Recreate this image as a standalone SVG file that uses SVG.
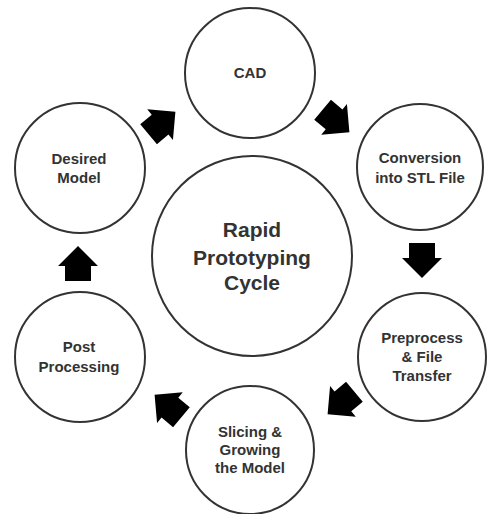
<svg xmlns="http://www.w3.org/2000/svg" width="488" height="514" viewBox="0 0 488 514">
<defs>
<style>
.node{fill:#fff;stroke:#333;stroke-width:2}
.lbl{font-family:"Liberation Sans",Arial,sans-serif;font-weight:bold;font-size:15px;fill:#333;text-anchor:middle}
.big{font-size:21px}
.arr{fill:#000}
</style>
<path id="blk" d="M-17.5,-13 L-2.5,-13 L-2.5,-20 L17.5,0 L-2.5,20 L-2.5,13 L-17.5,13 Z"/>
</defs>
<rect width="488" height="514" fill="#fff"/>
<g id="connectors" class="arr">
<use href="#blk" transform="translate(162,123) rotate(-40)"/>
<use href="#blk" transform="translate(336,121) rotate(40)"/>
<use href="#blk" transform="translate(422,260.5) rotate(90)"/>
<use href="#blk" transform="translate(341,403) rotate(140)"/>
<use href="#blk" transform="translate(168,406) rotate(-140)"/>
<use href="#blk" transform="translate(78,263.5) rotate(-90)"/>
</g>
<g id="center">
<circle class="node" cx="252" cy="256" r="100"/>
<text class="lbl big" x="252" y="237">Rapid</text>
<text class="lbl big" x="252" y="265">Prototyping</text>
<text class="lbl big" x="252" y="290">Cycle</text>
</g>
<g id="cad">
<circle class="node" cx="250" cy="73" r="65"/>
<text class="lbl" x="250" y="78">CAD</text>
</g>
<g id="conversion">
<circle class="node" cx="420" cy="167" r="63"/>
<text class="lbl" x="420" y="163">Conversion</text>
<text class="lbl" x="420" y="183">into STL File</text>
</g>
<g id="preprocess">
<circle class="node" cx="422" cy="357" r="64"/>
<text class="lbl" x="422" y="343">Preprocess</text>
<text class="lbl" x="422" y="362">&amp; File</text>
<text class="lbl" x="422" y="381">Transfer</text>
</g>
<g id="slicing">
<circle class="node" cx="250" cy="450" r="64"/>
<text class="lbl" x="250" y="437">Slicing &amp;</text>
<text class="lbl" x="250" y="455">Growing</text>
<text class="lbl" x="250" y="473">the Model</text>
</g>
<g id="post">
<circle class="node" cx="80" cy="357" r="65"/>
<text class="lbl" x="79" y="352">Post</text>
<text class="lbl" x="79" y="372">Processing</text>
</g>
<g id="desired">
<circle class="node" cx="80" cy="168" r="65"/>
<text class="lbl" x="79" y="164">Desired</text>
<text class="lbl" x="79" y="183">Model</text>
</g>
</svg>
